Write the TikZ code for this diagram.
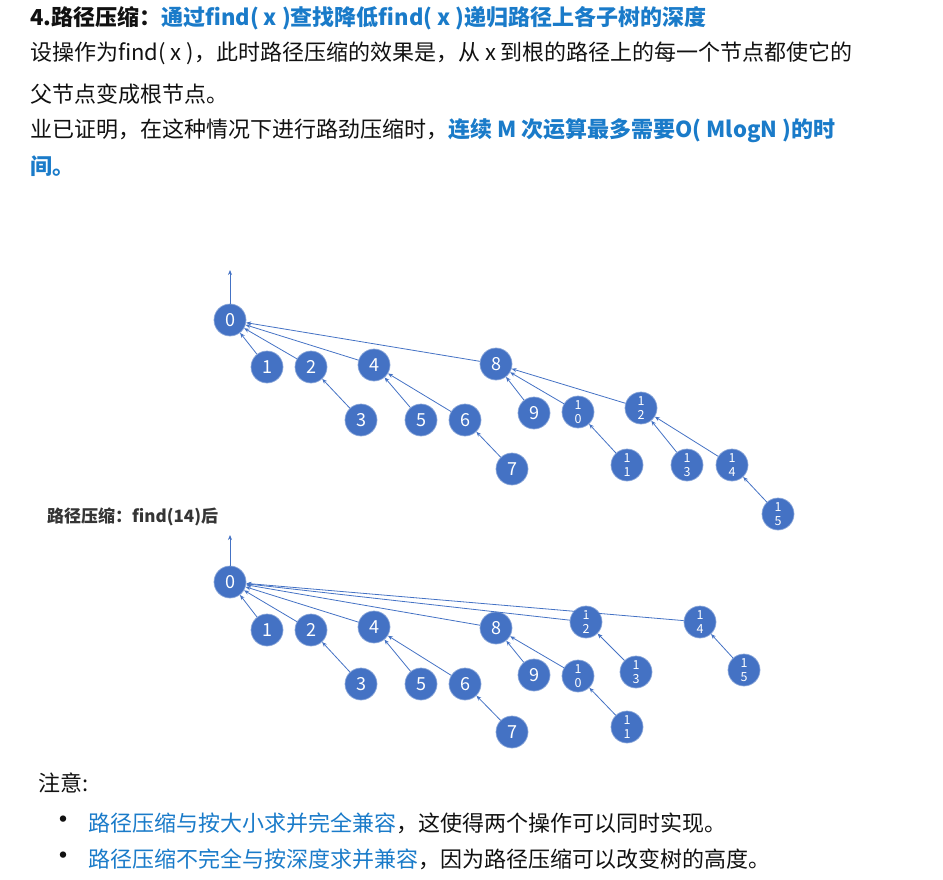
\documentclass[tikz,border=0pt]{standalone}
\usepackage{fontspec}
\setmainfont{Noto Sans CJK SC}
\usetikzlibrary{arrows.meta}
\definecolor{ufNode}{HTML}{4472C4}
\definecolor{ufRim}{HTML}{8AA6D9}
\definecolor{ufLink}{HTML}{4472C4}
\definecolor{ufBlue}{HTML}{1A7BC9}
\definecolor{ufDark}{HTML}{111111}
\tikzset{
    % tree nodes
    setnode/.style={circle, draw=ufRim, fill=ufNode, line width=0.7pt, minimum size=32pt, inner sep=0pt, text=white, font=\fontsize{18}{18}\selectfont},
    pairnode/.style={setnode, align=center, font=\fontsize{12.5}{14}\selectfont},
    % parent pointers
    link/.style={-{Stealth[length=5pt,width=4pt]}, ufLink, line width=0.8pt},
    % text lines
    bodytext/.style={anchor=west, inner sep=0pt, text=ufDark, font=\fontsize{22}{26}\selectfont},
    itemdot/.style={anchor=center, inner sep=0pt, text=ufDark, font=\fontsize{30}{30}\selectfont}
}
\begin{document}
\begin{tikzpicture}[x=1pt, y=-1pt]
    \useasboundingbox (0,0) rectangle (943,880);

    % Heading and explanation
    \node[bodytext] (title) at (30,18) {\textbf{4.路径压缩：}{\color{ufBlue}\textbf{通过find( x )查找降低find( x )递归路径上各子树的深度}}};
    \node[bodytext] (line1) at (30,53) {设操作为find( x )，此时路径压缩的效果是，从 x 到根的路径上的每一个节点都使它的};
    \node[bodytext] (line2) at (30,94) {父节点变成根节点。};
    \node[bodytext] (line3) at (30,131) {业已证明，在这种情况下进行路劲压缩时，{\color{ufBlue}\textbf{连续 M 次运算最多需要O( MlogN )的时}}};
    \node[bodytext] (line4) at (30,166) {{\color{ufBlue}\textbf{间。}}};

    % Tree before find(14)
    \node[setnode] (t0) at (230,320) {0};
    \node[setnode] (t1) at (267,367) {1};
    \node[setnode] (t2) at (311,367) {2};
    \node[setnode] (t3) at (361,420) {3};
    \node[setnode] (t4) at (374,365) {4};
    \node[setnode] (t5) at (421,420) {5};
    \node[setnode] (t6) at (465,420) {6};
    \node[setnode] (t7) at (512,469) {7};
    \node[setnode] (t8) at (496,364) {8};
    \node[setnode] (t9) at (534,413) {9};
    \node[pairnode] (t10) at (578,412) {1\\0};
    \node[pairnode] (t11) at (627,465) {1\\1};
    \node[pairnode] (t12) at (641,408) {1\\2};
    \node[pairnode] (t13) at (687,465) {1\\3};
    \node[pairnode] (t14) at (732,465) {1\\4};
    \node[pairnode] (t15) at (778,514) {1\\5};
    \coordinate (tup) at (230,270);

    \draw[link] (t0) -- (tup);
    \draw[link] (t1) -- (t0);
    \draw[link] (t2) -- (t0);
    \draw[link] (t4) -- (t0);
    \draw[link] (t8) -- (t0);
    \draw[link] (t3) -- (t2);
    \draw[link] (t5) -- (t4);
    \draw[link] (t6) -- (t4);
    \draw[link] (t7) -- (t6);
    \draw[link] (t9) -- (t8);
    \draw[link] (t10) -- (t8);
    \draw[link] (t12) -- (t8);
    \draw[link] (t11) -- (t10);
    \draw[link] (t13) -- (t12);
    \draw[link] (t14) -- (t12);
    \draw[link] (t15) -- (t14);

    % Tree after find(14)
    \node[anchor=west, inner sep=0pt, text=ufDark!85, font=\fontsize{17}{20}\selectfont\bfseries] (after) at (47,517) {路径压缩：find(14)后};

    \node[setnode] (b0) at (230,582) {0};
    \node[setnode] (b1) at (267,630) {1};
    \node[setnode] (b2) at (311,630) {2};
    \node[setnode] (b3) at (361,684) {3};
    \node[setnode] (b4) at (374,627) {4};
    \node[setnode] (b5) at (421,684) {5};
    \node[setnode] (b6) at (465,684) {6};
    \node[setnode] (b7) at (512,732) {7};
    \node[setnode] (b8) at (496,628) {8};
    \node[setnode] (b9) at (534,675) {9};
    \node[pairnode] (b10) at (578,676) {1\\0};
    \node[pairnode] (b11) at (627,727) {1\\1};
    \node[pairnode] (b12) at (586,622) {1\\2};
    \node[pairnode] (b13) at (636,672) {1\\3};
    \node[pairnode] (b14) at (700,622) {1\\4};
    \node[pairnode] (b15) at (744,670) {1\\5};
    \coordinate (bup) at (230,535);

    \draw[link] (b0) -- (bup);
    \draw[link] (b1) -- (b0);
    \draw[link] (b2) -- (b0);
    \draw[link] (b4) -- (b0);
    \draw[link] (b8) -- (b0);
    \draw[link] (b12) -- (b0);
    \draw[link] (b14) -- (b0);
    \draw[link] (b3) -- (b2);
    \draw[link] (b5) -- (b4);
    \draw[link] (b6) -- (b4);
    \draw[link] (b7) -- (b6);
    \draw[link] (b9) -- (b8);
    \draw[link] (b10) -- (b8);
    \draw[link] (b11) -- (b10);
    \draw[link] (b13) -- (b12);
    \draw[link] (b15) -- (b14);

    % Notes
    \node[bodytext] (note) at (38,783) {注意:};
    \node[itemdot] (dot1) at (63,823) {\textbullet};
    \node[bodytext] (item1) at (88,823) {{\color{ufBlue}路径压缩与按大小求并完全兼容}，这使得两个操作可以同时实现。};
    \node[itemdot] (dot2) at (63,859) {\textbullet};
    \node[bodytext] (item2) at (88,859) {{\color{ufBlue}路径压缩不完全与按深度求并兼容}，因为路径压缩可以改变树的高度。};
\end{tikzpicture}
\end{document}
